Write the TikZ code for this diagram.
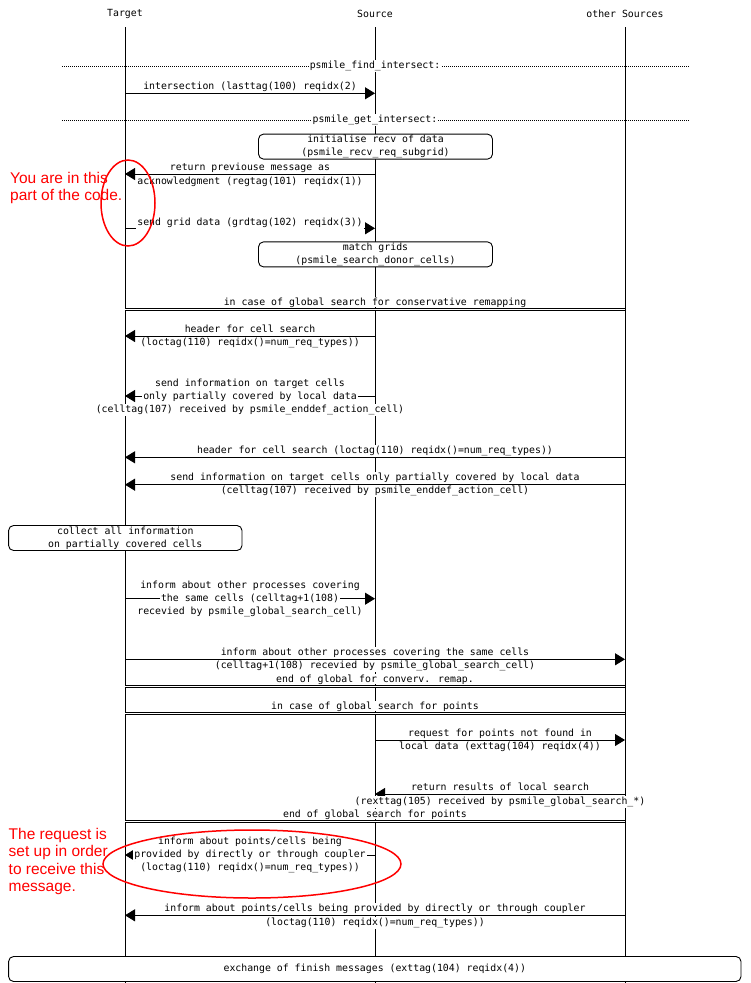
\documentclass[tikz,border=0pt]{standalone}
\usepackage{fontspec}
\usepackage{tikz}
\usetikzlibrary{arrows.meta,shapes,positioning}
\usepackage{xcolor}
\newfontfamily\monofont{DejaVu Sans Mono}
\newfontfamily\notefont{Liberation Sans}
\newcommand{\mscfont}{\monofont\fontsize{9.85pt}{13pt}\selectfont}
\definecolor{mscblack}{RGB}{0,0,0}
\definecolor{notered}{RGB}{255,0,0}
\tikzstyle{head} = [font=\mscfont, inner sep=0pt]
\tikzstyle{life} = [line width=0.9pt, color=mscblack]
\tikzstyle{msg} = [line width=0.9pt, color=mscblack, -{Triangle[length=10pt,width=12pt]}]
\tikzstyle{lbl} = [font=\mscfont, fill=white, inner xsep=1pt, inner ysep=0.5pt, text height=8pt, text depth=3pt]
\tikzstyle{barlbl} = [lbl, inner ysep=0pt, text depth=2pt]
\tikzstyle{sep} = [line width=0.9pt, color=mscblack, dash pattern=on 1pt off 1pt]
\tikzstyle{bar} = [line width=0.7pt, color=mscblack, double, double distance=1.3pt]
\tikzstyle{act} = [draw=mscblack, rounded corners=5pt, fill=white, line width=0.9pt, minimum height=25pt, align=center, font=\mscfont, inner sep=0pt]
\tikzstyle{hilite} = [draw=notered, line width=1.5pt]
\tikzstyle{note} = [font=\notefont\fontsize{15.5pt}{17.5pt}\selectfont, text=notered, align=left, anchor=north west, inner sep=0pt]

\begin{document}
\begin{tikzpicture}[x=1pt, y=-1pt]
\useasboundingbox (0,0) rectangle (750,983);

% Lifelines
\foreach \n/\x/\t in {tgt/125/Target, src/375/Source, oth/625/other Sources} {
  \node[head] (\n) at (\x,14) {\t};
  \coordinate (\n0) at (\x,983);
  \draw[life] (\n) ++(0,13) -- (\n0);
}

% Message rows
\foreach \r/\y in {m1/93.3, m2/174, m3/228.3, m4/336, m5/396, m6/457.3, m7/484.7,
                   m8/598.7, m9/659.3, m10/740, m11/794, m12/855, m13/915.3,
                   b1/309.3, b2/686.3, b3/713.3, b4/821.3} {
  \coordinate (T\r) at (125,\y);
  \coordinate (S\r) at (375,\y);
  \coordinate (O\r) at (625,\y);
}

% Sections
\coordinate (d1l) at (62,66);
\coordinate (d1r) at (690,66);
\coordinate (d2l) at (62,120);
\coordinate (d2r) at (690,120);
\draw[sep] (d1l) -- (d1r);
\draw[sep] (d2l) -- (d2r);
\draw[bar] (Tb1) -- (Ob1);
\draw[bar] (Tb2) -- (Ob2);
\draw[bar] (Tb3) -- (Ob3);
\draw[bar] (Tb4) -- (Ob4);

% Messages
\draw[msg] (Tm1) -- (Sm1);
\draw[msg] (Sm2) -- (Tm2);
\draw[msg] (Tm3) -- (Sm3);
\draw[msg] (Sm4) -- (Tm4);
\draw[msg] (Sm5) -- (Tm5);
\draw[msg] (Om6) -- (Tm6);
\draw[msg] (Om7) -- (Tm7);
\draw[msg] (Tm8) -- (Sm8);
\draw[msg] (Tm9) -- (Om9);
\draw[msg] (Sm10) -- (Om10);
\draw[msg] (Om11) -- (Sm11);
\draw[msg] (Sm12) -- (Tm12);
\draw[msg] (Om13) -- (Tm13);

% Actions
\node[act, minimum width=234pt] (a1) at (375.5,146.6) {initialise recv of data\\(psmile\_recv\_req\_subgrid)};
\node[act, minimum width=234pt] (a2) at (375.5,254.4) {match grids\\(psmile\_search\_donor\_cells)};
\node[act, minimum width=233.4pt] (a3) at (125.3,538) {collect all information\\on partially covered cells};
\node[act, minimum width=732.4pt] (a4) at (374.8,969) {exchange of finish messages (exttag(104) reqidx(4))};

% Labels
\node[lbl] (ld1) at (375,66) {psmile\_find\_intersect:};
\node[lbl] (ld2) at (375,120) {psmile\_get\_intersect:};
\node[lbl] (l1) at (250,87.3) {intersection (lasttag(100) reqidx(2)};
\node[lbl] (l2a) at (250,168.3) {return previouse message as};
\node[lbl] (l2b) at (250,181.7) {acknowledgment (regtag(101) reqidx(1))};
\node[lbl] (l3) at (250,222.7) {send grid data (grdtag(102) reqidx(3))};
\node[barlbl] (lb1) at (375,302) {in case of global search for conservative remapping};
\node[lbl] (l4a) at (250,330) {header for cell search};
\node[lbl] (l4b) at (250,343) {(loctag(110) reqidx()=num\_req\_types))};
\node[lbl] (l5a) at (250,384) {send information on target cells};
\node[lbl] (l5b) at (250,397) {only partially covered by local data};
\node[lbl] (l5c) at (250,410) {(celltag(107) received by psmile\_enddef\_action\_cell)};
\node[lbl] (l6) at (375,451) {header for cell search (loctag(110) reqidx()=num\_req\_types))};
\node[lbl] (l7a) at (375,478) {send information on target cells only partially covered by local data};
\node[lbl] (l7b) at (375,491) {(celltag(107) received by psmile\_enddef\_action\_cell)};
\node[lbl] (l8a) at (250,586) {inform about other processes covering};
\node[lbl] (l8b) at (250,599) {the same cells (celltag+1(108)};
\node[lbl] (l8c) at (250,612) {recevied by psmile\_global\_search\_cell)};
\node[lbl] (l9a) at (375,653) {inform about other processes covering the same cells};
\node[lbl] (l9b) at (375,666) {(celltag+1(108) recevied by psmile\_global\_search\_cell)};
\node[barlbl] (lb2) at (375,679) {end of global for converv. remap.};
\node[barlbl] (lb3) at (375,706) {in case of global search for points};
\node[lbl] (l10a) at (500,734) {request for points not found in};
\node[lbl] (l10b) at (500,747) {local data (exttag(104) reqidx(4))};
\node[lbl] (l11a) at (500,788) {return results of local search};
\node[lbl] (l11b) at (500,801.7) {(rexttag(105) received by psmile\_global\_search\_*)};
\node[barlbl] (lb4) at (375,814) {end of global search for points};
\node[lbl] (l12a) at (250,842) {inform about points/cells being};
\node[lbl] (l12b) at (250,855) {provided by directly or through coupler};
\node[lbl] (l12c) at (250,868) {(loctag(110) reqidx()=num\_req\_types))};
\node[lbl] (l13a) at (375,909) {inform about points/cells being provided by directly or through coupler};
\node[lbl] (l13b) at (375,922.7) {(loctag(110) reqidx()=num\_req\_types))};

% Notes
\draw[hilite] (128,203) ellipse [x radius=27pt, y radius=43pt];
\draw[hilite] (252,864) ellipse [x radius=149pt, y radius=34pt];
\node[note] (n1) at (10,172) {You are in this\\part of the code.};
\node[note] (n2) at (8.5,828) {The request is\\set up in order\\to receive this\\message.};
\end{tikzpicture}
\end{document}
